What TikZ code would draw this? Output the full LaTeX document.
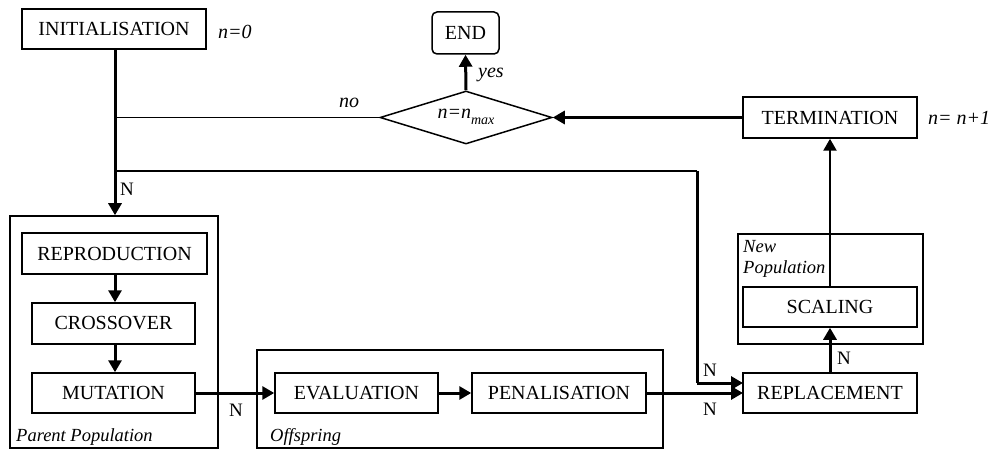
\documentclass[tikz,border=0pt]{standalone}
\usepackage{fontspec}
\setmainfont{Liberation Serif}
\usetikzlibrary{arrows.meta,shapes.geometric}
\begin{document}
\begin{tikzpicture}[x=1pt,y=-1pt,
  box/.style={draw,line width=1.5pt,minimum height=40pt,inner sep=0pt,font=\fontsize{20}{24}\selectfont},
  grp/.style={draw,line width=1.5pt},
  thick line/.style={line width=3pt},
  thin line/.style={line width=1.5pt},
  arr/.style={-{Triangle[length=12pt,width=13pt]}},
  lab/.style={font=\fontsize{20}{24}\selectfont\itshape,inner sep=0pt},
  glab/.style={font=\fontsize{18.5}{22}\selectfont\itshape,inner sep=0pt},
  nlab/.style={font=\fontsize{19}{22}\selectfont,inner sep=0pt}]
\useasboundingbox (0,0) rectangle (993,449);
% group boxes
\node[grp,minimum width=208pt,minimum height=232pt,inner sep=0pt] (parent) at (114,332) {};
\node[grp,minimum width=406pt,minimum height=98pt,inner sep=0pt] (offs) at (460,399) {};
\node[grp,minimum width=185pt,minimum height=110pt,inner sep=0pt] (newpop) at (830.5,289) {};
% process boxes
\node[box,minimum width=184pt] (init) at (114,29) {INITIALISATION};
\node[box,minimum width=67pt,minimum height=42pt,rounded corners=5pt] (end) at (465.5,33) {END};
\node[draw,line width=1.5pt,diamond,minimum width=172pt,minimum height=53pt,inner sep=0pt] (dia) at (466,117.5) {};
\node[font=\fontsize{20}{24}\selectfont\itshape,inner sep=0pt] (diatext) at (466,117) {n=n\raisebox{-6pt}{\fontsize{14}{16}\selectfont max}};
\node[box,minimum width=174pt,minimum height=41pt] (term) at (830,117.5) {TERMINATION};
\node[box,minimum width=185pt,minimum height=41pt] (repro) at (114.5,253.5) {REPRODUCTION};
\node[box,minimum width=163pt,minimum height=41pt] (cross) at (113.5,323.5) {CROSSOVER};
\node[box,minimum width=163pt] (mut) at (113.5,393) {MUTATION};
\node[box,minimum width=163pt] (eval) at (356.5,393) {EVALUATION};
\node[box,minimum width=174pt] (pen) at (559,393) {PENALISATION};
\node[box,minimum width=174pt] (scal) at (830,307) {SCALING};
\node[box,minimum width=174pt] (repl) at (830,393) {REPLACEMENT};
% labels
\node[lab,anchor=west] (n0) at (218,32) {n=0};
\node[lab,anchor=west] (nn1) at (928,118) {n= n+1};
\node[lab] (no) at (349,103) {no};
\node[lab,anchor=west] (yes) at (478,75) {yes};
\node[glab,anchor=west] (pplab) at (16,437) {Parent Population};
\node[glab,anchor=west] (offlab) at (270,437) {Offspring};
\node[glab,anchor=west] (newlab) at (743,247) {New};
\node[glab,anchor=west] (poplab) at (743,269) {Population};
\node[nlab] (nA) at (127,189) {N};
\node[nlab] (nB) at (236,410) {N};
\node[nlab] (nC) at (710,370) {N};
\node[nlab] (nD) at (710,409) {N};
\node[nlab] (nE) at (844,358) {N};
% junctions
\coordinate (j1) at (115,117.5);
\coordinate (j2) at (115,171);
\coordinate (c2) at (697,171);
\coordinate (c3) at (697,383);
\coordinate (r1) at (743,383);
\coordinate (r2) at (743,393);
% connectors
\draw[thick line,arr] (init.south -| j1) -- (j1 |- parent.north);
\draw[thin line] (j1) -- (dia.west);
\draw[thin line] (j2) -- (c2);
\draw[thick line] (c2) -- (c3);
\draw[thick line,arr] (c3) -- (r1);
\draw[thick line,arr] (term.west) -- (dia.east);
\draw[thick line,arr] (dia.north) -- (end.south);
\draw[line width=2.4pt,arr] (scal.north) -- (term.south);
\draw[thick line,arr] (repl.north) -- (scal.south);
\draw[thick line,arr] (repro.south -| j1) -- (cross.north -| j1);
\draw[thick line,arr] (cross.south -| j1) -- (mut.north -| j1);
\draw[thick line,arr] (mut.east) -- (eval.west);
\draw[thick line,arr] (eval.east) -- (pen.west);
\draw[thick line,arr] (pen.east) -- (r2);
\end{tikzpicture}
\end{document}
